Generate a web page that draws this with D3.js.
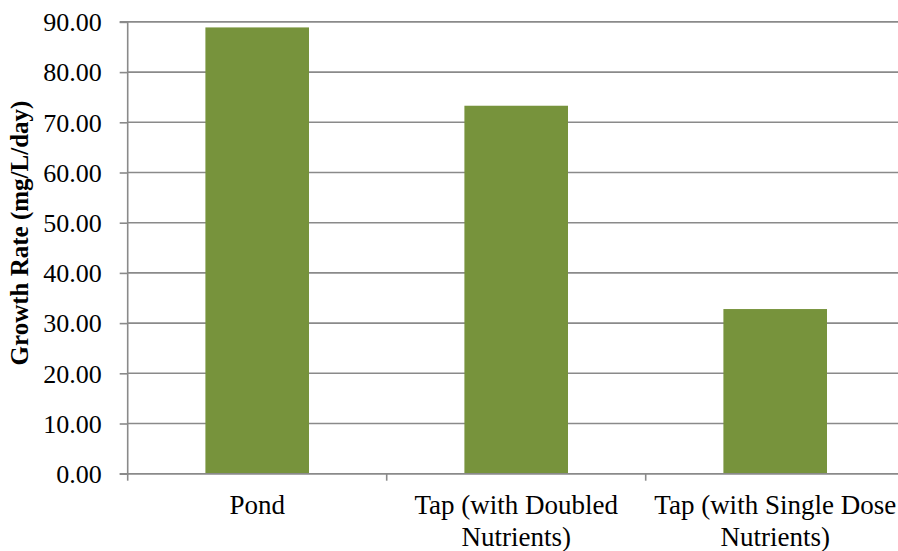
<!DOCTYPE html>
<html><head><meta charset="utf-8">
<script src="https://cdn.jsdelivr.net/npm/d3@7"></script>
<style>body{margin:0;background:#fff}svg{display:block}svg text{font-family:'Liberation Serif','Times New Roman',serif}</style>
</head><body>
<svg id="c" width="898" height="551"></svg>
<script>
const categories = ["Pond", "Tap (with Doubled Nutrients)", "Tap (with Single Dose Nutrients)"];
const growthRate = [88.9, 73.3, 32.8];
const yTicks = [0, 10, 20, 30, 40, 50, 60, 70, 80, 90];
const yTitle = "Growth Rate (mg/L/day)";

(function() {
const svg = d3.select("#c");
const pLeft = 127.7, pRight = 904.7, pTop = 21.9, pBottom = 473.7;
const font = "'Liberation Serif','Times New Roman',serif";
const grid = "#8a8a8a";

const x = d3.scaleBand().domain(categories).range([pLeft, pRight]).paddingInner(0.6).paddingOuter(0.3);
const y = d3.scaleLinear().domain([0, 90]).range([pBottom, pTop]);

// gridlines
svg.append("g").selectAll("line").data(yTicks).join("line")
  .attr("x1", pLeft).attr("x2", 898)
  .attr("y1", d => y(d)).attr("y2", d => y(d))
  .attr("stroke", grid).attr("stroke-width", 1.6);

// bars
svg.append("g").selectAll("rect").data(categories).join("rect")
  .attr("x", d => x(d)).attr("width", x.bandwidth())
  .attr("y", (d, i) => y(growthRate[i]))
  .attr("height", (d, i) => y(0) - y(growthRate[i]))
  .attr("fill", "#77933C");

// y axis
const yAxis = d3.axisLeft(y).tickValues(yTicks).tickSize(8).tickPadding(18).tickFormat(d3.format(".2f"));
const gy = svg.append("g").attr("transform", `translate(${pLeft},0)`).call(yAxis).attr("font-family", null);
gy.select(".domain").attr("stroke", grid).attr("stroke-width", 1.6).attr("d", `M-8,${pTop}H0V${pBottom}H-8`);
gy.selectAll(".tick line").attr("stroke", grid).attr("stroke-width", 1.6);
gy.selectAll("text").style("font-family", font).style("font-size", "26px").attr("fill", "#000").attr("dy", "0.34em");

// x axis
const xAxis = d3.axisBottom(x).tickSize(0).tickPadding(0);
const gx = svg.append("g").attr("transform", `translate(0,${pBottom})`).call(xAxis).attr("font-family", null);
gx.select(".domain").remove();
const bounds = [pLeft, ...categories.map(c => x(c) + x.bandwidth() / 2 + x.step() / 2)];
gx.selectAll(".bound").data(bounds).join("line").attr("class", "bound")
  .attr("x1", d => d).attr("x2", d => d).attr("y1", 0).attr("y2", 7)
  .attr("stroke", grid).attr("stroke-width", 1.6);
gx.append("line").attr("x1", pLeft).attr("x2", 898).attr("y1", 0).attr("y2", 0)
  .attr("stroke", grid).attr("stroke-width", 1.6);

gx.selectAll(".tick text").each(function(d) {
  const t = d3.select(this);
  t.text(null).style("font-family", font).style("font-size", "27px").attr("fill", "#000")
    .attr("text-anchor", "middle").attr("y", 0).attr("dy", null);
  const words = d.split(" ");
  let lines = [], cur = [];
  const tmp = t.append("tspan");
  words.forEach(w => {
    const test = cur.concat([w]).join(" ");
    tmp.text(test);
    if (tmp.node().getComputedTextLength() > 258 && cur.length) { lines.push(cur.join(" ")); cur = [w]; }
    else cur.push(w);
  });
  lines.push(cur.join(" "));
  tmp.remove();
  lines.forEach((l, i) => t.append("tspan").attr("x", 0).attr("y", 40.5 + i * 31.5).text(l));
});

// y title
svg.append("text")
  .attr("transform", `translate(28,233) rotate(-90)`)
  .attr("text-anchor", "middle")
  .style("font-family", font).style("font-size", "25px").attr("font-weight", "bold")
  .text(yTitle);
})();
</script>
</body></html>
